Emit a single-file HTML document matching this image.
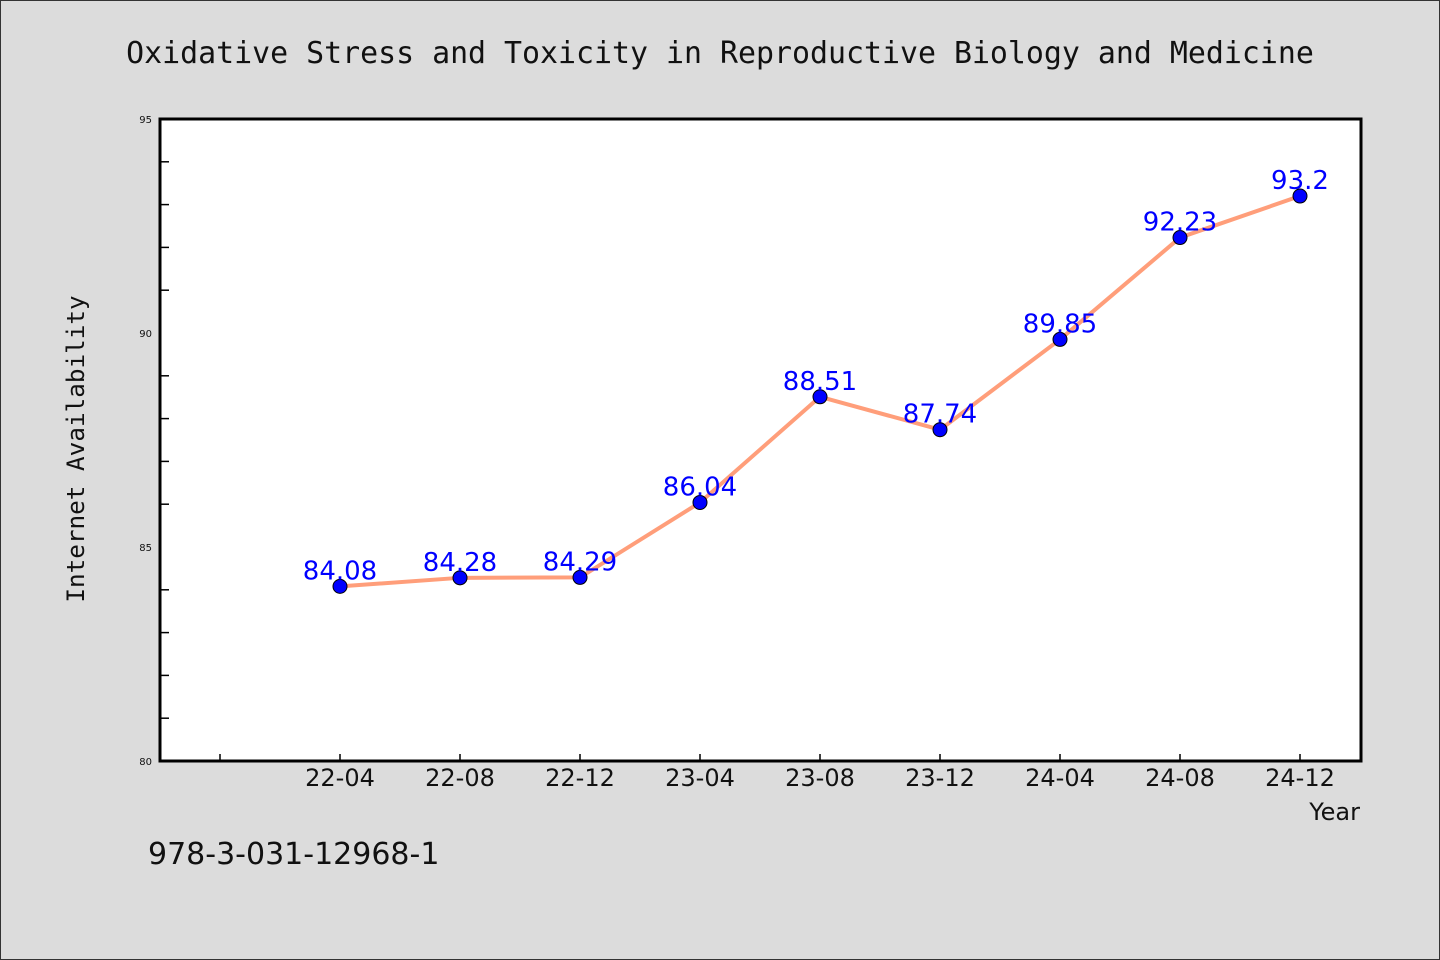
<!DOCTYPE html>
<html><head><meta charset="utf-8"><style>
html,body{margin:0;padding:0;background:#dcdcdc;}
svg{display:block;}
</style></head><body>
<svg id="chart" width="1440" height="960" xmlns="http://www.w3.org/2000/svg">
<rect x="0.5" y="0.5" width="1439" height="959" fill="#dcdcdc" stroke="#333"/>
<text x="720" y="63" text-anchor="middle" font-family="DejaVu Sans Mono, Liberation Mono, monospace" font-size="29.9" fill="#111">Oxidative Stress and Toxicity in Reproductive Biology and Medicine</text>
<rect x="160" y="119" width="1201" height="642" fill="#fff"/>
<g id="axes"></g>
<g id="series"></g>
<rect x="160" y="119" width="1201" height="642" fill="none" stroke="#000" stroke-width="3"/>
<text transform="translate(84,449) rotate(-90)" text-anchor="middle" font-family="DejaVu Sans Mono, Liberation Mono, monospace" font-size="24.3" fill="#111">Internet Availability</text>
<text x="1360" y="820" text-anchor="end" font-family="DejaVu Sans, Liberation Sans, sans-serif" font-size="24" fill="#111">Year</text>
<text x="148" y="864" font-family="DejaVu Sans, Liberation Sans, sans-serif" font-size="30" fill="#111">978-3-031-12968-1</text>
</svg>
<script>
const categories = ["22-04","22-08","22-12","23-04","23-08","23-12","24-04","24-08","24-12"];
const values = [84.08,84.28,84.29,86.04,88.51,87.74,89.85,92.23,93.2];
const yTickLabels = [80,85,90,95];
const NS="http://www.w3.org/2000/svg";
const yMin=80,yMax=95,plotTop=119,plotBottom=761;
function yScale(v){return plotBottom-(v-yMin)/(yMax-yMin)*(plotBottom-plotTop);}
function xScale(i){return 340+120*i;}
function mk(tag,attrs,parent){const e=document.createElementNS(NS,tag);for(const k in attrs)e.setAttribute(k,attrs[k]);parent.appendChild(e);return e;}
const axesG=document.getElementById('axes'),seriesG=document.getElementById('series');
for(let v=yMin+1;v<yMax;v++){
  if(v%5===0)continue;
  const t=mk('line',{x1:160,x2:169,y1:yScale(v),y2:yScale(v),stroke:'#000','stroke-width':1.5},axesG);
  
  
}
yTickLabels.forEach(v=>{
  const t=mk('text',{x:152,y:yScale(v)+4,'text-anchor':'end','font-family':'DejaVu Sans, Liberation Sans, sans-serif','font-size':10,fill:'#111'},axesG);
  t.textContent=v;
  
  
});
for(let i=-1;i<categories.length;i++){
  const t=mk('line',{x1:xScale(i),x2:xScale(i),y1:754,y2:761,stroke:'#000','stroke-width':1.5},axesG);
  
  
}
categories.forEach((c,i)=>{
  const t=mk('text',{x:xScale(i),y:786,'text-anchor':'middle','font-family':'DejaVu Sans, Liberation Sans, sans-serif','font-size':24,fill:'#111'},axesG);
  t.textContent=c;
  
  
});
const pts=values.map((v,i)=>xScale(i)+','+yScale(v)).join(' ');
const line=mk('polyline',{points:pts,fill:'none',stroke:'#ff9e7a','stroke-width':4,'stroke-linejoin':'round'},seriesG);


values.forEach((v,i)=>{
  const c=mk('circle',{cx:xScale(i),cy:yScale(v),r:7,fill:'#0000ff',stroke:'#000','stroke-width':1},seriesG);
  
  
  const t=mk('text',{x:xScale(i),y:yScale(v)-7,'text-anchor':'middle','font-family':'DejaVu Sans, Liberation Sans, sans-serif','font-size':26,fill:'#0000ff'},seriesG);
  t.textContent=v;
  
  
});
</script>
</body></html>
